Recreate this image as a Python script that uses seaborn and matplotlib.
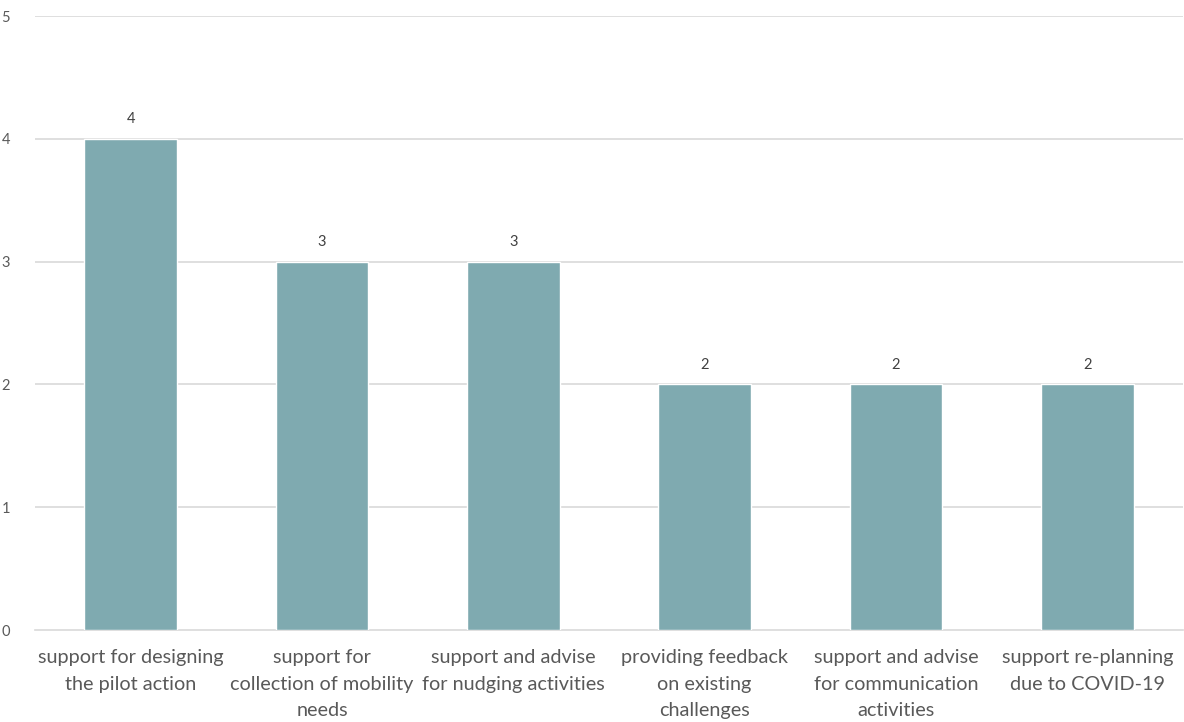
import matplotlib
matplotlib.use("Agg")
import matplotlib.pyplot as plt
import seaborn as sns
import pandas as pd
import numpy as np

categories = [
    "support for designing\nthe pilot action",
    "support for\ncollection of mobility\nneeds",
    "support and advise\nfor nudging activities",
    "providing feedback\non existing\nchallenges",
    "support and advise\nfor communication\nactivities",
    "support re-planning\ndue to COVID-19",
]
counts = [4, 3, 3, 2, 2, 2]
y_ticks = [0, 1, 2, 3, 4, 5]

sns.set_theme(style="white")
plt.rcParams["font.family"] = ["Lato", "DejaVu Sans"]

text_color = "#595959"
bar_color = "#7FAAB0"
grid_color = "#D9D9D9"

df = pd.DataFrame({"category": categories, "count": counts})

fig = plt.figure(figsize=(11.84, 7.22), dpi=100)
ax = fig.add_axes([35 / 1184, 92 / 722, 1148 / 1184, 614 / 722])

sns.barplot(data=df, x="category", y="count", color=bar_color, width=0.486,
            saturation=1, ax=ax, zorder=3)

ax.set_xlim(-0.5, len(categories) - 0.5)
ax.set_ylim(0, 5)
ax.set_yticks(y_ticks)
ax.set_xlabel("")
ax.set_ylabel("")

for y in y_ticks[1:]:
    ax.axhline(y, color=grid_color, lw=1.2, zorder=1)

for p, v in zip(ax.patches, counts):
    ax.annotate(f"{v}", (p.get_x() + p.get_width() / 2, p.get_height()),
                xytext=(0, 9), textcoords="offset points",
                ha="center", va="bottom", fontsize=10.5, color="#404040")

for s in ["top", "right", "left"]:
    ax.spines[s].set_visible(False)
ax.spines["bottom"].set_color(grid_color)
ax.spines["bottom"].set_linewidth(1.2)

ax.tick_params(axis="y", length=0, pad=18, labelsize=10.5, labelcolor=text_color)
ax.tick_params(axis="x", which="major", length=0, pad=14, labelsize=14.3,
               labelcolor=text_color)
ax.set_xticks(np.arange(-0.5, len(categories)), minor=True)
ax.tick_params(axis="x", which="minor", length=5, width=1.2, color=grid_color)
for lbl in ax.get_yticklabels():
    lbl.set_horizontalalignment("right")
for lbl in ax.get_xticklabels():
    lbl.set_linespacing(1.65)

fig.savefig("out.png", dpi=100, facecolor="white")
